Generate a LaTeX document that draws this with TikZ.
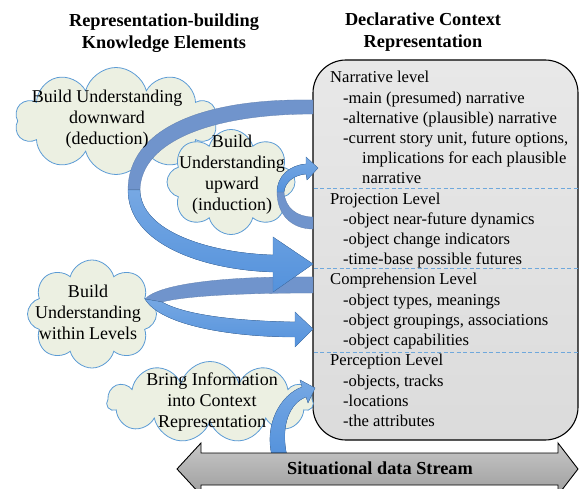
\documentclass[tikz,border=0pt]{standalone}
\usepackage{fontspec}
\setmainfont{Liberation Serif}
\usetikzlibrary{shapes.symbols}
\definecolor{cloudfill}{HTML}{ECF0E2}
\definecolor{cloudline}{HTML}{5B9BD5}
\definecolor{ribfront}{HTML}{5492DC}
\definecolor{ribback}{HTML}{7094CC}
\definecolor{boxfill}{HTML}{E2E2E2}
\definecolor{dashblue}{HTML}{6FA8DC}
\definecolor{streamgray}{HTML}{B0B0B0}
\begin{document}
\begin{tikzpicture}[x=1pt,y=-1pt,
 title/.style={font=\fontsize{18.3}{22}\selectfont\bfseries, align=center, inner sep=0},
 lvl/.style={anchor=base west, inner sep=0, font=\fontsize{16.6}{20}\selectfont},
 cloudshape/.style={cloud, cloud puffs=#1, cloud puff arc=150, draw=cloudline, fill=cloudfill, line width=0.8pt, inner sep=0, cloud ignores aspect},
 cloudtext/.style={align=center, inner sep=0, font=\fontsize{18}{21}\selectfont},
 front/.style={top color=ribfront!80!white, bottom color=ribfront, draw=ribfront!85!black, line width=0.3pt},
 back/.style={fill=ribback, draw=ribback!85!black, line width=0.3pt},
 sep/.style={draw=dashblue, dash pattern=on 4pt off 2.5pt, line width=0.9pt},
]
\useasboundingbox (0,0) rectangle (579,489);

% titles
\node[title] (tleft) at (164,33) {Representation-building\\Knowledge Elements};
\node[title] (tright) at (423,32) {Declarative Context\\Representation};

% context box
\node[draw, top color=black!9, bottom color=black!14, rounded corners=33pt, line width=1.1pt, minimum width=265pt, minimum height=380pt, inner sep=0] (box) at (445.5,250) {};

\draw[sep] (313.5,188) -- (577.5,188);
\draw[sep] (313.5,268) -- (577.5,268);
\draw[sep] (313.5,352) -- (577.5,352);

\node[lvl] (n0) at (330,83.0) {Narrative level};
\node[lvl] (n1) at (343,103.2) {-main (presumed) narrative};
\node[lvl] (n2) at (343,123.4) {-alternative (plausible) narrative};
\node[lvl] (n3) at (343,143.6) {-current story unit, future options,};
\node[lvl] (n4) at (362,163.8) {implications for each plausible};
\node[lvl] (n5) at (362,184.0) {narrative};
\node[lvl] (n6) at (330,204.2) {Projection Level};
\node[lvl] (n7) at (343,224.4) {-object near-future dynamics};
\node[lvl] (n8) at (343,244.6) {-object change indicators};
\node[lvl] (n9) at (343,264.8) {-time-base possible futures};
\node[lvl] (n10) at (330,285.0) {Comprehension Level};
\node[lvl] (n11) at (343,305.2) {-object types, meanings};
\node[lvl] (n12) at (343,325.4) {-object groupings, associations};
\node[lvl] (n13) at (343,345.6) {-object capabilities};
\node[lvl] (n14) at (330,365.8) {Perception Level};
\node[lvl] (n15) at (343,386.0) {-objects, tracks};
\node[lvl] (n16) at (343,406.2) {-locations};
\node[lvl] (n17) at (343,426.4) {-the attributes};

% clouds
\node[cloudshape=10, minimum width=202pt, minimum height=107pt] (c1) at (116,121) {};
\node[cloudshape=8, minimum width=128pt, minimum height=105pt] (c2) at (231,182) {};
\node[cloudshape=8, minimum width=129pt, minimum height=108pt] (c3) at (92,314) {};
\node[cloudshape=11, minimum width=206pt, minimum height=81pt] (c4) at (210,402) {};

% ribbons: back parts
\filldraw[back] (313,100) .. controls (200,98) and (128,130) .. (128,190) -- (140,190) .. controls (141,142) and (210,114) .. (313,114) -- cycle;
\filldraw[back] (313,229) .. controls (292,229) and (277,215) .. (277,192) -- (284,192) .. controls (285,208) and (297,217) .. (313,217) -- cycle;
\filldraw[back] (313,277) .. controls (230,276) and (160,283) .. (145,299) -- (162,302) .. controls (185,296) and (240,293) .. (313,293) -- cycle;

% ribbons: front parts
\filldraw[front] (128,190) .. controls (128,245) and (205,270) .. (273,272) -- (273,292) -- (313,264) -- (273,237) -- (273,255) .. controls (210,253) and (141,232) .. (140,190) -- cycle;
\filldraw[front] (277,192) .. controls (277,176) and (290,165) .. (306,164) -- (306,157) -- (318,168) -- (307,180) -- (306,174) .. controls (294,175) and (285,182) .. (284,192) -- cycle;
\filldraw[front] (145,299) .. controls (160,325) and (230,337) .. (295,337) -- (295,347) -- (313,329) -- (295,312) -- (295,322) .. controls (235,321) and (185,315) .. (162,302) -- cycle;
\filldraw[front] (272,456) .. controls (264,425) and (280,395) .. (302,387) -- (300,380) -- (315,388) -- (308,403) -- (306,397) .. controls (290,403) and (280,425) .. (287,456) -- cycle;

% cloud texts
\node[cloudtext] (ct1) at (107,119) {Build Understanding\\downward\\(deduction)};
\node[cloudtext] (ct2) at (232,175) {Build\\Understanding\\upward\\(induction)};
\node[cloudtext] (ct3) at (88,312) {Build\\Understanding\\within Levels};
\node[cloudtext] (ct4) at (212,402) {Bring Information\\into Context\\Representation};

% situational data stream
\draw[top color=black!22, bottom color=black!38, line width=0.9pt] (177,469) -- (201,443) -- (201,453) -- (558,453) -- (558,443) -- (578,469) -- (558,495) -- (558,485) -- (201,485) -- (201,495) -- cycle;
\node[font=\fontsize{18.3}{22}\selectfont\bfseries, inner sep=0] (stream) at (380,468) {Situational data Stream};
\end{tikzpicture}
\end{document}
